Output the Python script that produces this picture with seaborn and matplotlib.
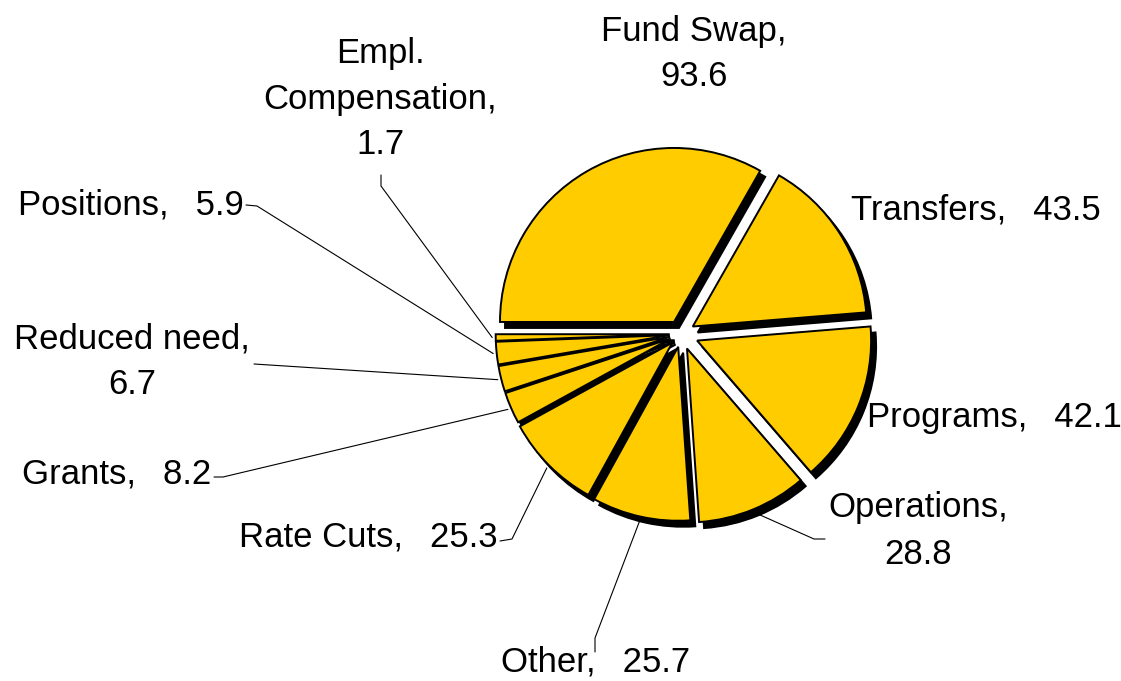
import numpy as np
import matplotlib
matplotlib.use("Agg")
import matplotlib.pyplot as plt
import seaborn as sns

# ---- data ----
categories = ["Fund Swap", "Transfers", "Programs", "Operations", "Other",
              "Rate Cuts", "Grants", "Reduced need", "Positions", "Empl. Compensation"]
display_names = ["Fund Swap", "Transfers", "Programs", "Operations", "Other",
                 "Rate Cuts", "Grants", "Reduced need", "Positions", "Empl.\nCompensation"]
values = [93.6, 43.5, 42.1, 28.8, 25.7, 25.3, 8.2, 6.7, 5.9, 1.7]
GAP = ", \u2002"
separators = [",\n", GAP, GAP, ",\n", GAP, GAP, GAP, ",\n", GAP, ",\n"]

# ---- style / layout ----
explode = [0.08, 0.08, 0.10, 0.09, 0.075, 0.07, 0.065, 0.065, 0.065, 0.065]
FILL = "#FFCC00"

sns.set_theme(style="white")
plt.rcParams["font.family"] = ["Liberation Sans", "DejaVu Sans"]

W, H = 1121, 681
CX, CY, R = 681, 334, 174.0


def px(x, y):
    return ((x - CX) / R, (CY - y) / R)


fig = plt.figure(figsize=(W / 100, H / 100), dpi=100)
ax = fig.add_axes([0, 0, 1, 1])

# shadow pie
ax.pie(values, explode=explode, startangle=180, counterclock=False,
       colors=["black"], center=px(CX + 5, CY + 6),
       wedgeprops=dict(edgecolor="black", linewidth=1.4))
# main pie
wedges, _ = ax.pie(values, explode=explode, startangle=180, counterclock=False,
                   colors=[FILL], center=(0, 0),
                   wedgeprops=dict(edgecolor="black", linewidth=1.4))

# label layout (pixel positions)
label_pos = [(694, 54), (851, 210), (867, 418), (918, 531), (596, 662),
             (498, 537), (211, 474), (132, 362), (244, 205), (380, 99)]
label_ha = ["center", "left", "left", "center", "center",
            "right", "right", "center", "right", "center"]
leader_pts = [None, None, None,
              [(825, 539), (814, 539)],
              [(595, 652), (595, 638)],
              [(500, 541), (512, 539)],
              [(214, 477), (223, 477)],
              [(254, 364)],
              [(246, 205), (257, 206)],
              [(381, 175), (381, 186)]]

for i, w in enumerate(wedges):
    txt = f"{display_names[i]}{separators[i]}{values[i]:.1f}"
    x, y = px(*label_pos[i])
    ax.text(x, y, txt, ha=label_ha[i], va="center", multialignment="center",
            fontsize=25, linespacing=1.5, color="black")
    if leader_pts[i] is not None:
        mid = np.deg2rad((w.theta1 + w.theta2) / 2)
        cx, cy = w.center
        ex, ey = cx + 1.02 * w.r * np.cos(mid), cy + 1.02 * w.r * np.sin(mid)
        pts = [px(*p) for p in leader_pts[i]] + [(ex, ey)]
        xs, ys = zip(*pts)
        ax.plot(xs, ys, color="black", lw=0.8, zorder=0.5)

x0, _ = px(0, 0)
x1, _ = px(W, 0)
_, y0 = px(0, H)
_, y1 = px(0, 0)
ax.set_aspect("auto")
ax.set_xlim(x0, x1)
ax.set_ylim(y0, y1)
ax.axis("off")

fig.savefig("out.png", dpi=100)
